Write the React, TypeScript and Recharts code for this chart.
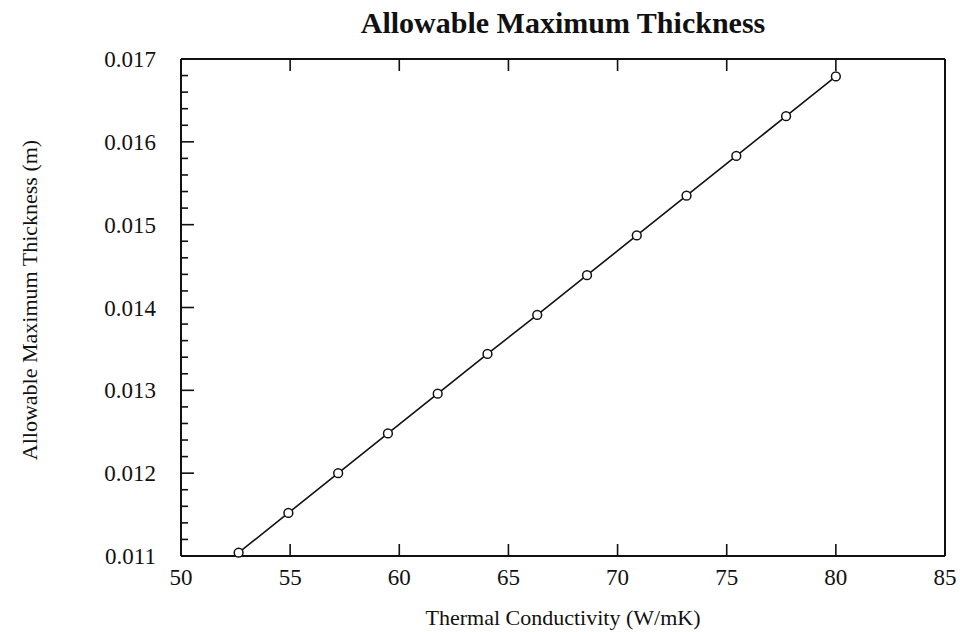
import React from 'react';
import { LineChart, Line, XAxis, YAxis, Customized } from 'recharts';

// Data
const conductivity = [52.64, 54.92, 57.2, 59.48, 61.76, 64.04, 66.32, 68.6, 70.88, 73.16, 75.44, 77.72, 80.0];
const thickness = [0.01104, 0.01152, 0.012, 0.01248, 0.01296, 0.01344, 0.01391, 0.01439, 0.01487, 0.01535, 0.01583, 0.01631, 0.01679];

const xTicks = [50, 55, 60, 65, 70, 75, 80, 85];
const yMajorTicks = [0.011, 0.012, 0.013, 0.014, 0.015, 0.016, 0.017];
const yMinorPerMajor = 5;

const yTicks: number[] = [];
for (let i = 0; i < yMajorTicks.length - 1; i++) {
  for (let j = 0; j < yMinorPerMajor; j++) {
    yTicks.push(Math.round((yMajorTicks[i] + (j * (yMajorTicks[i + 1] - yMajorTicks[i])) / yMinorPerMajor) * 1e6) / 1e6);
  }
}
yTicks.push(yMajorTicks[yMajorTicks.length - 1]);

const data = conductivity.map((k, i) => ({ k, t: thickness[i] }));

const FONT = '"Liberation Serif", "Times New Roman", serif';
const INK = '#111';
const isMajor = (v: number) => yMajorTicks.some((m) => Math.abs(m - v) < 1e-9);

const BottomTick = (props: any) => {
  const { x, y, payload } = props;
  return (
    <g>
      <line x1={x} x2={x} y1={y} y2={y - 12} stroke={INK} strokeWidth={1.6} />
      <text x={x} y={y + 29} textAnchor="middle" fontFamily={FONT} fontSize={23} fill={INK}>
        {payload.value}
      </text>
    </g>
  );
};

const TopTick = (props: any) => {
  const { x, y } = props;
  return <line x1={x} x2={x} y1={y} y2={y + 12} stroke={INK} strokeWidth={1.6} />;
};

const LeftTick = (props: any) => {
  const { x, y, payload } = props;
  const major = isMajor(payload.value);
  return (
    <g>
      <line x1={x} x2={x + (major ? 13 : 7)} y1={y} y2={y} stroke={INK} strokeWidth={1.6} />
      {major && (
        <text x={x - 25} y={y + 8} textAnchor="end" fontFamily={FONT} fontSize={23} fill={INK}>
          {payload.value.toFixed(3)}
        </text>
      )}
    </g>
  );
};

const RightTick = (props: any) => {
  const { x, y, payload } = props;
  const major = isMajor(payload.value);
  return <line x1={x} x2={x - (major ? 13 : 7)} y1={y} y2={y} stroke={INK} strokeWidth={1.6} />;
};

const Titles = () => (
  <g>
    <text x={563} y={33} textAnchor="middle" fontFamily={FONT} fontWeight="bold" fontSize={30} fill={INK}>
      Allowable Maximum Thickness
    </text>
    <text x={563} y={625} textAnchor="middle" fontFamily={FONT} fontSize={22} fill={INK}>
      Thermal Conductivity (W/mK)
    </text>
    <text
      x={37}
      y={300}
      textAnchor="middle"
      fontFamily={FONT}
      fontSize={22}
      fill={INK}
      transform="rotate(-90 37 300)"
    >
      Allowable Maximum Thickness (m)
    </text>
  </g>
);

const Dot = (props: any) => {
  const { cx, cy } = props;
  if (cx == null || cy == null) return null;
  return <circle cx={cx} cy={cy} r={4.4} fill="#fff" stroke={INK} strokeWidth={1.5} />;
};

export default function App() {
  return (
    <div style={{ position: 'absolute', left: 0, top: 0, width: 960, height: 632, background: '#fff' }}>
      <LineChart width={960} height={632} data={data} margin={{ top: 58, right: 14, bottom: 16, left: 81 }}>
        <XAxis
          xAxisId="bottom"
          dataKey="k"
          type="number"
          domain={[50, 85]}
          ticks={xTicks}
          interval={0}
          orientation="bottom"
          height={60}
          tickSize={0}
          tickMargin={0}
          tickLine={false}
          axisLine={{ stroke: INK, strokeWidth: 2 }}
          tick={<BottomTick />}
        />
        <XAxis
          xAxisId="top"
          dataKey="k"
          type="number"
          domain={[50, 85]}
          ticks={xTicks}
          interval={0}
          orientation="top"
          height={1}
          tickSize={0}
          tickMargin={0}
          tickLine={false}
          axisLine={{ stroke: INK, strokeWidth: 2 }}
          tick={<TopTick />}
        />
        <YAxis
          yAxisId="left"
          type="number"
          domain={[0.011, 0.017]}
          ticks={yTicks}
          interval={0}
          orientation="left"
          width={100}
          tickSize={0}
          tickMargin={0}
          tickLine={false}
          axisLine={{ stroke: INK, strokeWidth: 2 }}
          tick={<LeftTick />}
        />
        <YAxis
          yAxisId="right"
          type="number"
          domain={[0.011, 0.017]}
          ticks={yTicks}
          interval={0}
          orientation="right"
          width={1}
          tickSize={0}
          tickMargin={0}
          tickLine={false}
          axisLine={{ stroke: INK, strokeWidth: 2 }}
          tick={<RightTick />}
        />
        <Line
          xAxisId="bottom"
          yAxisId="left"
          dataKey="t"
          type="linear"
          stroke={INK}
          strokeWidth={1.6}
          dot={<Dot />}
          activeDot={false}
          isAnimationActive={false}
        />
        <Customized component={Titles} />
      </LineChart>
    </div>
  );
}
